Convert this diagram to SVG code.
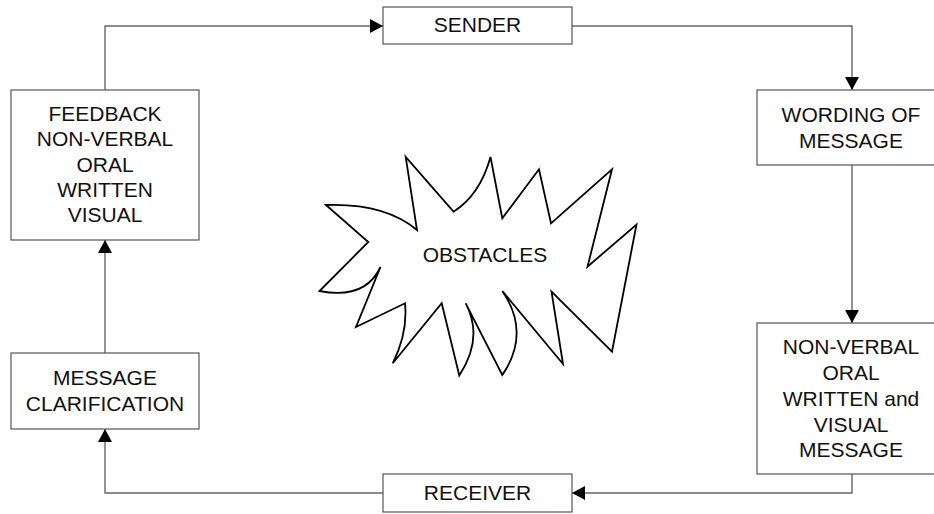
<svg xmlns="http://www.w3.org/2000/svg" width="934" height="514" viewBox="0 0 934 514">
<defs>
<style>
.box{fill:#fff;stroke:#555;stroke-width:1.2}
.t{font-family:"Liberation Sans",Arial,sans-serif;font-size:21px;fill:#111;text-anchor:middle}
.c{fill:none;stroke:#666;stroke-width:1.4}
.burst{fill:#fff;stroke:#000;stroke-width:1.8;stroke-linejoin:miter}
</style>
<marker id="ah" markerUnits="userSpaceOnUse" markerWidth="14" markerHeight="15" refX="13" refY="7" orient="auto">
<path d="M0,0 L13,7 L0,14 z" fill="#000"/>
</marker>
</defs>
<rect width="934" height="514" fill="#fff"/>
<g id="connectors">
<polyline class="c" points="105,90 105,26 383,26" marker-end="url(#ah)"/>
<polyline class="c" points="572,26 852,26 852,90" marker-end="url(#ah)"/>
<polyline class="c" points="852,165 852,323" marker-end="url(#ah)"/>
<polyline class="c" points="852,474 852,493 572,493" marker-end="url(#ah)"/>
<polyline class="c" points="383,493 105,493 105,429" marker-end="url(#ah)"/>
<polyline class="c" points="105,353 105,240" marker-end="url(#ah)"/>
</g>
<g id="sender">
<rect class="box" x="383" y="7" width="189" height="37"/>
<text class="t" x="477.5" y="32">SENDER</text>
</g>
<g id="wording">
<rect class="box" x="757" y="90" width="190" height="75"/>
<text class="t" x="851" y="122">WORDING OF</text>
<text class="t" x="851" y="148">MESSAGE</text>
</g>
<g id="message">
<rect class="box" x="757" y="323" width="190" height="151"/>
<text class="t" x="851" y="354">NON-VERBAL</text>
<text class="t" x="851" y="380">ORAL</text>
<text class="t" x="851" y="406">WRITTEN and</text>
<text class="t" x="851" y="432">VISUAL</text>
<text class="t" x="851" y="457">MESSAGE</text>
</g>
<g id="receiver">
<rect class="box" x="383" y="474" width="189" height="38"/>
<text class="t" x="477.5" y="500">RECEIVER</text>
</g>
<g id="clarification">
<rect class="box" x="11" y="353" width="188" height="76"/>
<text class="t" x="105" y="385">MESSAGE</text>
<text class="t" x="105" y="411">CLARIFICATION</text>
</g>
<g id="feedback">
<rect class="box" x="11" y="90" width="188" height="150"/>
<text class="t" x="105" y="121">FEEDBACK</text>
<text class="t" x="105" y="146">NON-VERBAL</text>
<text class="t" x="105" y="172">ORAL</text>
<text class="t" x="105" y="197">WRITTEN</text>
<text class="t" x="105" y="222">VISUAL</text>
</g>
<g id="obstacles">
<path class="burst" d="M326,205 Q385,203 417,230 L405.7,157 L453.5,211.7 Q480,195 490.5,157 L502.3,218.3 L539,169.3 L551,223.3 L612,169.3 L587.5,266.7 L636.5,224.5 L612,351.7 L551.5,291.7 L563,364 L502.3,291 Q531,333 502.3,375 L465.7,303.3 Q484,338 459.3,375.5 L441.7,303.3 L392.7,363.3 Q408,333 405,303.3 L356,327 L380.5,267 Q365,300 319.5,291 L368.3,242 Z"/>
<text class="t" x="485" y="262">OBSTACLES</text>
</g>
</svg>
